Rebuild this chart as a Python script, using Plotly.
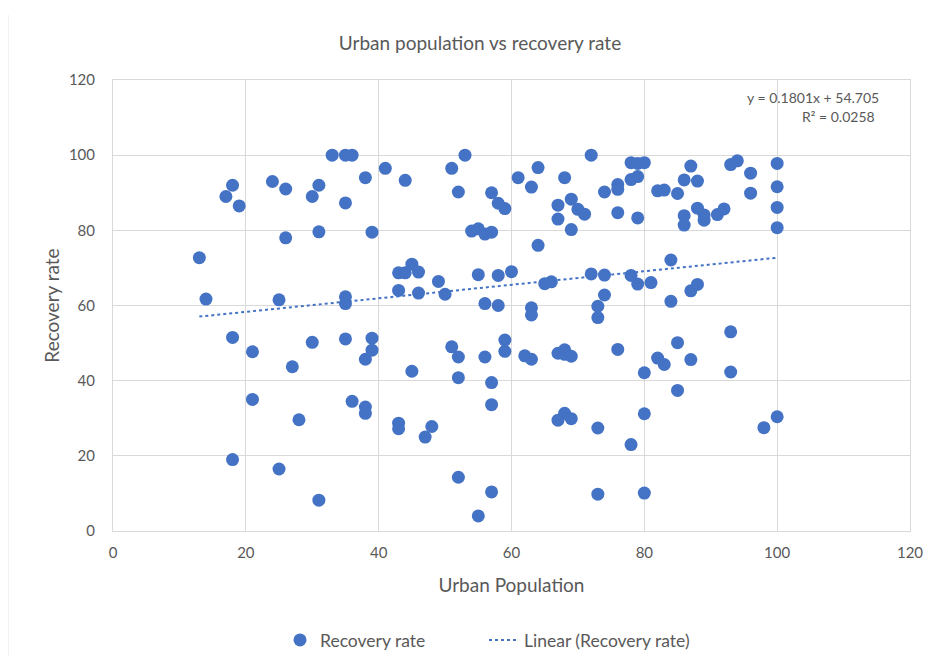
import plotly.graph_objects as go

urban_population = [
    13, 14, 17, 18, 19, 18, 18, 21, 21, 24, 26, 26, 25, 25, 27, 28, 30, 31, 31, 30,
    31, 33, 35, 36, 35, 35, 35, 35, 36, 38, 39, 38, 38, 38, 39, 39, 41, 43, 43, 43,
    43, 44, 44, 45, 46, 46, 45, 47, 48, 49, 50, 51, 52, 53, 51, 52, 52, 52, 54, 55,
    56, 57, 55, 56, 56, 55, 57, 58, 59, 58, 58, 57, 57, 57, 59, 59, 60, 61, 63, 64,
    64, 62, 63, 63, 63, 65, 66, 67, 67, 68, 69, 69, 70, 71, 72, 72, 73, 73, 67, 68,
    68, 69, 67, 68, 69, 73, 73, 74, 74, 74, 76, 76, 76, 76, 78, 79, 80, 78, 79, 79,
    78, 79, 81, 80, 78, 80, 80, 82, 83, 85, 84, 84, 82, 83, 85, 85, 86, 87, 86, 86,
    88, 88, 89, 89, 91, 92, 87, 88, 87, 93, 94, 96, 96, 93, 93, 98, 100, 100, 100, 100,
    100,
]
recovery_rate = [
    72.7, 61.7, 89.0, 92.0, 86.5, 51.5, 19.0, 47.7, 35.0, 93.0, 91.0, 78.0, 61.5, 16.5, 43.7, 29.6, 89.0, 92.0, 79.6, 50.2,
    8.2, 100.0, 100.0, 100.0, 87.3, 62.3, 60.5, 51.1, 34.5, 94.0, 79.5, 45.7, 33.0, 31.3, 51.3, 48.1, 96.5, 68.7, 64.0, 28.7,
    27.2, 93.3, 68.7, 71.0, 68.9, 63.3, 42.5, 25.0, 27.8, 66.4, 63.0, 96.5, 90.2, 100.0, 49.0, 46.3, 40.8, 14.3, 79.8, 80.4,
    79.0, 79.5, 68.2, 60.5, 46.3, 4.0, 90.0, 87.2, 85.8, 68.0, 60.0, 39.5, 33.6, 10.4, 50.8, 47.8, 69.0, 94.0, 91.5, 96.7,
    76.0, 46.6, 45.7, 59.4, 57.5, 65.8, 66.3, 86.7, 83.0, 94.0, 88.3, 80.2, 85.6, 84.3, 100.0, 68.4, 59.8, 56.8, 47.3, 48.2,
    47.0, 46.5, 29.5, 31.3, 29.9, 27.4, 9.8, 90.2, 68.1, 62.8, 92.2, 90.9, 84.7, 48.3, 98.0, 97.8, 98.0, 93.5, 94.3, 83.3,
    68.0, 65.7, 66.1, 42.1, 23.0, 31.2, 10.1, 90.5, 90.7, 89.8, 72.1, 61.1, 46.0, 44.3, 50.1, 37.4, 93.4, 97.1, 83.9, 81.4,
    93.1, 85.9, 84.1, 82.7, 84.2, 85.7, 63.9, 65.6, 45.6, 97.5, 98.5, 95.2, 89.9, 53.0, 42.3, 27.5, 97.8, 91.6, 86.1, 80.7,
    30.4,
]

# trendline coefficients as printed on the chart
trend_slope = 0.1801
trend_intercept = 54.705
trend_r2 = 0.0258

x_ticks = [0, 20, 40, 60, 80, 100, 120]
y_ticks = [0, 20, 40, 60, 80, 100, 120]

blue = "#4472C4"
grey_text = "#595959"
grid = "#D9D9D9"
font_family = "Lato, 'Open Sans', sans-serif"

# page is offset by the 8px body margin
W, H = 917, 648
L, T = 105, 72
PW, PH = 797, 451
R, B = W - L - PW, H - T - PH


def px(page_x):
    return (page_x - 8 - L) / PW


def py(page_y):
    return (T + PH - (page_y - 8)) / PH


x_min, x_max = min(urban_population), max(urban_population)
trend_x = [x_min, x_max]
trend_y = [trend_slope * v + trend_intercept for v in trend_x]

fig = go.Figure()
fig.add_trace(go.Scatter(
    x=urban_population, y=recovery_rate, mode="markers", name="Recovery rate",
    marker=dict(color=blue, size=13, line=dict(width=0)), legend="legend",
))
fig.add_trace(go.Scatter(
    x=trend_x, y=trend_y, mode="lines", name="Linear (Recovery rate)",
    line=dict(color=blue, width=2, dash="dot"), legend="legend2",
))

leg_font = dict(size=17.5, color=grey_text, family=font_family)

fig.update_layout(
    width=W, height=H,
    margin=dict(l=L, r=R, t=T, b=B, autoexpand=False),
    paper_bgcolor="white", plot_bgcolor="white",
    font=dict(family=font_family, color=grey_text, size=15),
    title=dict(text="Urban population vs recovery rate", x=px(480), xanchor="center",
               xref="paper", y=1 - 35 / H, yanchor="middle",
               font=dict(size=19, color=grey_text, family=font_family)),
    showlegend=True,
    legend=dict(x=px(280), xanchor="left", y=py(640), yanchor="middle", font=leg_font,
                bgcolor="rgba(0,0,0,0)"),
    legend2=dict(x=px(484), xanchor="left", y=py(640), yanchor="middle", font=leg_font,
                 bgcolor="rgba(0,0,0,0)"),
    xaxis=dict(range=[0, 120], tickvals=x_ticks, showgrid=True, gridcolor=grid, gridwidth=1,
               zeroline=False, showline=True, linecolor=grid, mirror=True,
               ticks="", ticklabelstandoff=8, tickfont=dict(size=15, color=grey_text),
               title=dict(text="Urban Population", font=dict(size=19, color=grey_text), standoff=18)),
    yaxis=dict(range=[0, 120], tickvals=y_ticks, showgrid=True, gridcolor=grid, gridwidth=1,
               zeroline=False, showline=True, linecolor=grid, mirror=True,
               ticks="", ticklabelstandoff=14, tickfont=dict(size=15, color=grey_text),
               title=dict(text="Recovery rate", font=dict(size=19, color=grey_text), standoff=4)),
)

fig.add_annotation(xref="paper", yref="paper", x=px(881), y=py(97),
                   xanchor="right", yanchor="middle", showarrow=False,
                   text=f"y = {trend_slope}x + {trend_intercept}",
                   font=dict(size=14, color=grey_text))
fig.add_annotation(xref="paper", yref="paper", x=px(877), y=py(116),
                   xanchor="right", yanchor="middle", showarrow=False,
                   text=f"R² = {trend_r2}",
                   font=dict(size=14, color=grey_text))

fig.add_shape(type="line", xref="paper", yref="paper",
              x0=px(8), x1=px(8), y0=py(664), y1=py(15),
              line=dict(color="#E6E6E6", width=1))

fig.write_html("out.html")
